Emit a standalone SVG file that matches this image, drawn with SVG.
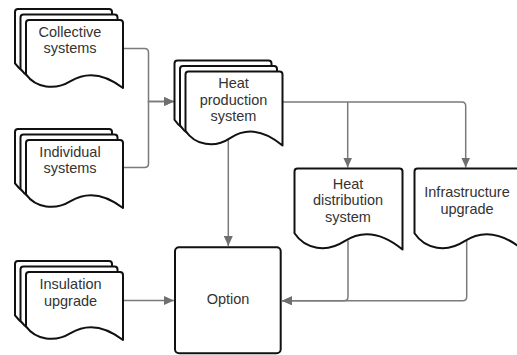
<svg xmlns="http://www.w3.org/2000/svg" xmlns:xlink="http://www.w3.org/1999/xlink" width="517" height="355" viewBox="0 0 517 355">
<style>
.doc{fill:#fff;stroke:#111;stroke-width:2;stroke-linejoin:round}
.box{fill:#fff;stroke:#111;stroke-width:2}
.lbl{font-family:"Liberation Sans",Arial,sans-serif;font-size:14.5px;fill:#333;text-anchor:middle}
.con{fill:none;stroke:#7a7a7a;stroke-width:1.5}
</style>
<defs>
<marker id="arr" markerUnits="userSpaceOnUse" markerWidth="10" markerHeight="9" refX="10" refY="4.5" orient="auto">
<path d="M0,0 L10,4.5 L0,9 Z" fill="#6f6f6f"/>
</marker>
<path id="docS" d="M0,3 Q0,0 3,0 H94 Q97,0 97,3 V68 C77.6,53.04 60.14,51.68 44.62,61.2 C29.1,70.72 9.7,68 0,54.4 Z"/>
<path id="docM" d="M0,3 Q0,0 3,0 H94 Q97,0 97,3 V74 C77.6,57.72 60.14,56.24 44.62,66.6 C29.1,76.96 9.7,74 0,59.2 Z"/>
<path id="docL" d="M0,3 Q0,0 3,0 H105 Q108,0 108,3 V81 C86.4,63.18 66.96,61.56 49.68,72.9 C32.4,84.24 10.8,81 0,64.8 Z"/>
</defs>
<g id="connectors">
<path class="con" d="M123,48.5 H144.5 Q148.5,48.5 148.5,52.5 V101.5 H174" marker-end="url(#arr)"/>
<path class="con" d="M123,167.5 H144.5 Q148.5,167.5 148.5,163.5 V101.5 H174" marker-end="url(#arr)"/>
<path class="con" d="M228.3,139 V246" marker-end="url(#arr)"/>
<path class="con" d="M282.5,102 H461.7 Q465.7,102 465.7,106 V167.5" marker-end="url(#arr)"/>
<path class="con" d="M347.7,102 V167.5" marker-end="url(#arr)"/>
<path class="con" d="M348,240.5 V296.7 Q348,300.7 344,300.7 H282" marker-end="url(#arr)"/>
<path class="con" d="M466.7,240.5 V296.7 Q466.7,300.7 462.7,300.7 H282" marker-end="url(#arr)"/>
<path class="con" d="M123,300.5 H174" marker-end="url(#arr)"/>
</g>
<g id="collective">
<use href="#docS" class="doc" x="15" y="9"/>
<use href="#docS" class="doc" x="20.5" y="14.5"/>
<use href="#docS" class="doc" x="26" y="20"/>
<text class="lbl" x="70" y="36.5">Collective</text>
<text class="lbl" x="70" y="53">systems</text>
</g>
<g id="individual">
<use href="#docS" class="doc" x="15" y="129"/>
<use href="#docS" class="doc" x="20.5" y="134.5"/>
<use href="#docS" class="doc" x="26" y="140"/>
<text class="lbl" x="70" y="156.5">Individual</text>
<text class="lbl" x="70" y="173">systems</text>
</g>
<g id="insulation">
<use href="#docS" class="doc" x="15" y="261"/>
<use href="#docS" class="doc" x="20.5" y="266.5"/>
<use href="#docS" class="doc" x="26" y="272"/>
<text class="lbl" x="70.5" y="289">Insulation</text>
<text class="lbl" x="70.5" y="305.5">upgrade</text>
</g>
<g id="heatproduction">
<use href="#docM" class="doc" x="174.5" y="60.5"/>
<use href="#docM" class="doc" x="180" y="66"/>
<use href="#docM" class="doc" x="185.5" y="71.5"/>
<text class="lbl" x="233.5" y="88">Heat</text>
<text class="lbl" x="233.5" y="104.5">production</text>
<text class="lbl" x="233.5" y="121">system</text>
</g>
<g id="heatdistribution">
<use href="#docL" class="doc" x="294.5" y="168.5"/>
<text class="lbl" x="348" y="188.5">Heat</text>
<text class="lbl" x="348" y="205">distribution</text>
<text class="lbl" x="348" y="221.5">system</text>
</g>
<g id="infrastructure">
<use href="#docL" class="doc" x="414.5" y="168.5"/>
<text class="lbl" x="467" y="197">Infrastructure</text>
<text class="lbl" x="467" y="213.5">upgrade</text>
</g>
<g id="option">
<rect class="box" x="175" y="247.3" width="105.7" height="106" rx="4"/>
<text class="lbl" x="228" y="304">Option</text>
</g>
</svg>
